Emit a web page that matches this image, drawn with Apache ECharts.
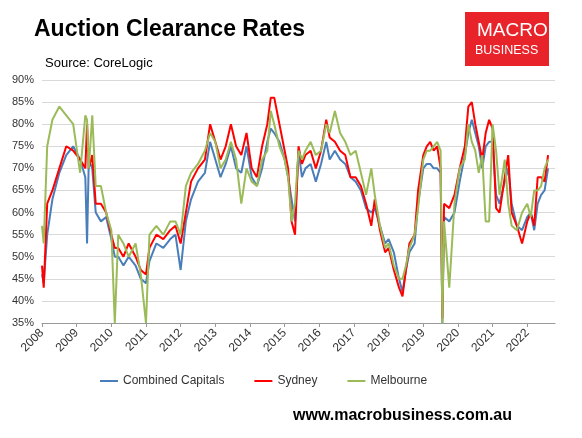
<!DOCTYPE html><html><head><meta charset="utf-8"><script src="https://cdn.jsdelivr.net/npm/echarts@6/dist/echarts.min.js"></script></head><body style="margin:0"><div id="c" style="width:582px;height:438px"></div><script>
const sydT=[2008.0,2008.05,2008.15,2008.3,2008.5,2008.7,2008.9,2009.1,2009.25,2009.3,2009.35,2009.45,2009.55,2009.7,2009.85,2010.0,2010.1,2010.2,2010.35,2010.5,2010.7,2010.85,2011.0,2011.1,2011.3,2011.5,2011.7,2011.85,2012.0,2012.15,2012.3,2012.5,2012.7,2012.85,2013.0,2013.15,2013.3,2013.45,2013.6,2013.75,2013.9,2014.05,2014.2,2014.35,2014.5,2014.6,2014.7,2014.85,2015.0,2015.1,2015.2,2015.3,2015.4,2015.5,2015.6,2015.75,2015.9,2016.05,2016.2,2016.3,2016.45,2016.6,2016.75,2016.9,2017.05,2017.2,2017.35,2017.5,2017.6,2017.75,2017.9,2018.0,2018.15,2018.3,2018.4,2018.5,2018.6,2018.75,2018.85,2019.0,2019.1,2019.2,2019.3,2019.4,2019.5,2019.55,2019.6,2019.75,2019.9,2020.05,2020.2,2020.3,2020.4,2020.5,2020.6,2020.7,2020.8,2020.9,2021.0,2021.1,2021.2,2021.35,2021.45,2021.55,2021.7,2021.85,2022.0,2022.1,2022.2,2022.3,2022.4,2022.5,2022.6];
const sydney=[48,43,62,65,70,75,74,72,70,80,70,73,62,62,60,55,52,52,50,53,50,47,46,52,55,54,56,57,53,60,67,70,72,80,76,72,75,80,75,73,78,70,68,75,80,86,86,80,74,70,58,55,75,71,73,74,70,74,81,77,76,74,73,68,68,66,62,57,63,56,51,52,47,43,41,47,53,55,65,73,75,76,74,75,70,36,62,61,64,70,75,84,85,80,76,72,78,81,79,61,60,68,73,60,57,53,58,60,57,68,68,67,73];
const combined=[46,44,55,63,69,73,75,72,68,53,72,70,60,58,59,54,50,50,48,50,48,45,44,49,53,52,54,55,47,58,63,67,69,76,72,68,71,75,70,69,75,68,66,70,76,79,78,76,72,68,63,58,74,68,70,71,67,71,76,72,74,72,71,68,67,65,61,60,61,57,53,54,51,45,42,47,51,53,62,70,71,71,70,70,69,35,59,58,60,67,73,78,81,78,75,70,75,76,76,64,62,67,70,62,57,56,59,60,56,62,64,65,70];
const mel=[57,53,75,81,84,82,80,69,82,81,70,82,66,66,60,56,35,55,53,50,53,46,35,55,57,55,58,58,55,66,69,71,74,78,76,70,72,76,72,62,70,67,66,72,74,83,80,75,72,68,58,62,74,72,74,76,73,74,80,78,83,78,76,73,74,69,64,70,64,57,52,53,48,45,45,48,52,55,61,72,74,74,75,76,74,35,58,43,62,70,72,80,76,74,69,73,58,58,80,74,64,72,62,57,56,60,62,59,65,65,66,70,72];
const mk=v=>sydT.map((t,i)=>[t,v[i]]);
const c=echarts.init(document.getElementById('c'));
c.setOption({
 animation:false,
 title:[{text:'Auction Clearance Rates',left:29,top:13,textStyle:{fontFamily:'Liberation Sans',fontSize:23,fontWeight:'bold',color:'#000'}},
  {text:'Source: CoreLogic',left:40,top:52,textStyle:{fontFamily:'Liberation Sans',fontSize:13,fontWeight:'normal',color:'#000'}},
  {text:'www.macrobusiness.com.au',left:288,top:403,textStyle:{fontFamily:'Liberation Sans',fontSize:16,fontWeight:'bold',color:'#000'}}],
 graphic:[{type:'rect',left:465,top:12,shape:{width:84,height:54},style:{fill:'#e8232a'}},
  {type:'text',left:477,top:21,style:{text:'MACRO',fill:'#fff',font:'19px Liberation Sans'}},
  {type:'text',left:475,top:44,style:{text:'BUSINESS',fill:'#fff',font:'12.5px Liberation Sans'}}],
 grid:{left:42,right:27,top:80,bottom:115},
 legend:{top:370,left:95,itemWidth:18,itemHeight:2,icon:'rect',itemGap:30,textStyle:{fontSize:12,fontFamily:'Liberation Sans',color:'#333'}},
 xAxis:{type:'value',min:2008,max:2022.8,interval:1,splitLine:{show:false},axisLine:{lineStyle:{color:'#999'}},axisTick:{show:true,length:4},
  axisLabel:{rotate:45,color:'#333',fontSize:12,formatter:v=>Number.isInteger(v)?String(v):'',showMaxLabel:false}},
 yAxis:{type:'value',min:35,max:90,interval:5,axisLine:{show:false},axisTick:{show:false},splitLine:{lineStyle:{color:'#d9d9d9'}},
  axisLabel:{color:'#333',fontSize:11,formatter:v=>v+'%'}},
 series:[
  {name:'Combined Capitals',type:'line',data:mk(combined),showSymbol:false,lineStyle:{width:2,color:'#4a7ebb'},itemStyle:{color:'#4a7ebb'}},
  {name:'Sydney',type:'line',data:mk(sydney),showSymbol:false,lineStyle:{width:2,color:'#ff0000'},itemStyle:{color:'#ff0000'}},
  {name:'Melbourne',type:'line',data:mk(mel),showSymbol:false,lineStyle:{width:2,color:'#9bbb59'},itemStyle:{color:'#9bbb59'}}]
});
</script></body></html>
